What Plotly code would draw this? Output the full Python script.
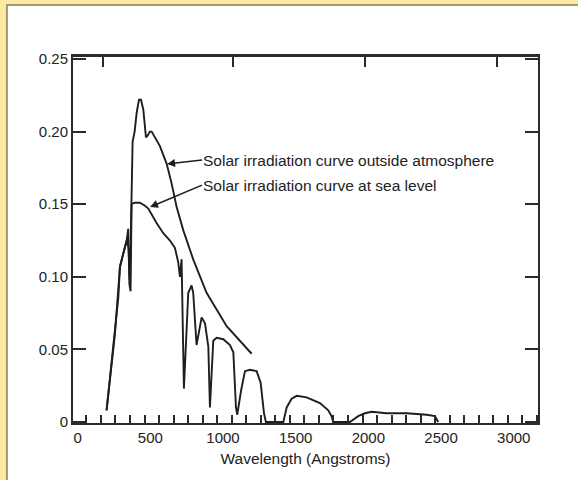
import plotly.graph_objects as go

# ---- data ----
wl_outside = [199, 257, 291, 337, 350, 358, 366, 378, 392, 406, 422, 436, 452, 470, 480,
              497, 509, 566, 612, 647, 681, 727, 795, 887, 1025, 1197]
irr_outside = [0.008, 0.061, 0.107, 0.125, 0.120, 0.098, 0.130, 0.193, 0.200, 0.213, 0.222,
               0.222, 0.215, 0.196, 0.197, 0.200, 0.200, 0.190, 0.178, 0.164, 0.148, 0.132,
               0.112, 0.089, 0.066, 0.047]

wl_sea = [199, 222, 257, 280, 291, 314, 337, 348, 356, 364, 371, 390, 428, 463, 486, 543,
          589, 635, 669, 692, 704, 715, 731, 761, 784, 795, 818, 853, 876, 899, 910, 933,
          956, 1002, 1048, 1071, 1089, 1098, 1125, 1151, 1185, 1231, 1259, 1282, 1295, 1415,
          1426, 1438, 1472, 1507, 1575, 1667, 1724, 1747, 1758, 1873, 1930, 1976, 2022,
          2125, 2263, 2401, 2458, 2481]
irr_sea = [0.008, 0.029, 0.061, 0.086, 0.107, 0.116, 0.125, 0.133, 0.095, 0.090, 0.150,
           0.151, 0.151, 0.149, 0.147, 0.137, 0.130, 0.125, 0.120, 0.110, 0.100, 0.112,
           0.023, 0.089, 0.094, 0.089, 0.053, 0.072, 0.068, 0.052, 0.010, 0.056, 0.058,
           0.057, 0.053, 0.048, 0.010, 0.005, 0.022, 0.035, 0.036, 0.035, 0.027, 0.006,
           0.000, 0.000, 0.004, 0.010, 0.016, 0.018, 0.017, 0.013, 0.008, 0.004, 0.000,
           0.000, 0.004, 0.006, 0.007, 0.006, 0.006, 0.005, 0.004, 0.000]

x_tick_vals = [0, 500, 1000, 1500, 2000, 2500, 3000]
x_tick_text = ["0", "500", "1000", "1500", "2000", "2500", "3000"]
x_minor_vals = list(range(60, 3161, 100))
top_tick_vals = [175, 1070, 1975, 2885]
y_tick_vals = [0, 0.05, 0.10, 0.15, 0.20, 0.25]
y_tick_text = ["0", "0.05", "0.10", "0.15", "0.20", "0.25"]

label_outside = "Solar irradiation curve outside atmosphere"
label_sea = "Solar irradiation curve at sea level"
x_title = "Wavelength (Angstroms)"

X_RANGE = [-32, 3167]
Y_RANGE = [-0.0007, 0.2514]

INK = "#1e1e1e"
AXC = "#2b2b2b"
FONT = "Liberation Sans, Arial, sans-serif"

fig = go.Figure()
fig.add_trace(go.Scatter(x=wl_outside, y=irr_outside, mode="lines",
                         line=dict(color=INK, width=1.9), showlegend=False,
                         name=label_outside))
fig.add_trace(go.Scatter(x=wl_sea, y=irr_sea, mode="lines",
                         line=dict(color=INK, width=1.9), showlegend=False,
                         name=label_sea))
# helper trace so the top axis is drawn
fig.add_trace(go.Scatter(x=[None], y=[None], xaxis="x2", yaxis="y",
                         showlegend=False, hoverinfo="skip"))

fig.update_layout(
    width=578, height=480, autosize=False,
    margin=dict(l=73, r=40, t=57, b=57, pad=0),
    paper_bgcolor="#FEE9A2", plot_bgcolor="white",
    font=dict(family=FONT, size=15, color="#222222"),
    xaxis=dict(range=X_RANGE, showgrid=False, zeroline=False,
               tickmode="array", tickvals=x_tick_vals, ticktext=x_tick_text,
               ticks="", showline=True, linecolor=AXC, linewidth=2, mirror=False,
               minor=dict(tickmode="array", tickvals=x_minor_vals, ticks="inside",
                          ticklen=8, tickwidth=1.6, tickcolor=AXC),
               title=dict(text=x_title, standoff=8, font=dict(size=15.5))),
    xaxis2=dict(range=X_RANGE, overlaying="x", side="top", anchor="y",
                showgrid=False, zeroline=False, tickmode="array",
                tickvals=top_tick_vals, ticks="inside", ticklen=10, tickwidth=2,
                tickcolor=AXC, showticklabels=False, showline=True,
                linecolor=AXC, linewidth=2.5),
    yaxis=dict(range=Y_RANGE, showgrid=False, zeroline=False,
               tickmode="array", tickvals=y_tick_vals, ticktext=y_tick_text,
               ticks="inside", ticklen=13, tickwidth=2, tickcolor=AXC,
               showline=True, linecolor=AXC, linewidth=2, mirror="ticks"),
)

# panel (white card with thin border on the yellow page)
fig.add_shape(type="rect", xref="paper", yref="paper",
              x0=-0.142, x1=1.2, y0=-0.3, y1=1.142,
              fillcolor="white", line=dict(color="#857d62", width=1.5), layer="below")

fig.add_annotation(x=615, y=0.1777, xref="x", yref="y", text=label_outside,
                   showarrow=True, ax=35, ay=-4, xanchor="left", yanchor="middle",
                   arrowhead=2, arrowsize=1, arrowwidth=1.6, arrowcolor=INK,
                   font=dict(size=15.5, color="#222222"), borderpad=0)
fig.add_annotation(x=498, y=0.148, xref="x", yref="y", text=label_sea,
                   showarrow=True, ax=52, ay=-22, xanchor="left", yanchor="middle",
                   arrowhead=2, arrowsize=1, arrowwidth=1.6, arrowcolor=INK,
                   font=dict(size=15.5, color="#222222"), borderpad=0)

fig.write_html("out.html",
               config={"displayModeBar": False},
               post_script="document.body.style.margin='0px';"
                           "document.body.style.overflow='hidden';")
